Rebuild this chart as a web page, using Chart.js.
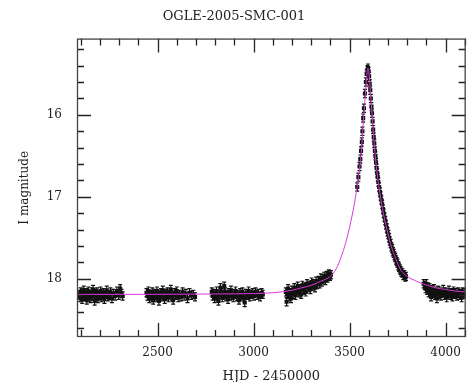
<!DOCTYPE html>
<html>
<head>
<meta charset="utf-8">
<script src="https://cdn.jsdelivr.net/npm/chart.js@4.4.1/dist/chart.umd.min.js"></script>
<style>
    html, body { margin: 0; padding: 0; background: #ffffff; }
    #wrap { width: 470px; height: 382px; }
</style>
</head>
<body>
<div id="wrap"><canvas id="GC1" width="470" height="382"></canvas></div>
<script>
//
// DATOS
//
var titulo = "OGLE-2005-SMC-001";
var ejeX = "HJD - 2450000";
var ejeY = "I magnitude";

var rangoX = [2080, 4105];
var rangoY = [15.07, 18.71];
var ticksX = [2500, 3000, 3500, 4000];
var ticksY = [16, 17, 18];

// temporadas de observacion [HJD, mag]
var temporada1 = [[2091,18.19],[2095,18.23],[2099,18.16],[2103,18.21],[2107,18.25],[2111,18.18],[2115,18.14],[2119,18.22],[2123,18.2],[2127,18.17],[2131,18.26],[2135,18.19],[2139,18.15],[2143,18.23],[2147,18.2],[2152,18.24],[2156,18.16],[2160,18.21],[2164,18.13],[2168,18.2],[2172,18.27],[2176,18.18],[2181,18.22],[2185,18.16],[2189,18.24],[2194,18.19],[2198,18.21],[2203,18.15],[2208,18.23],[2213,18.2],[2218,18.17],[2223,18.25],[2229,18.19],[2235,18.14],[2241,18.22],[2247,18.2],[2254,18.16],[2262,18.24],[2270,18.18],[2279,18.21],[2288,18.15],[2297,18.2],[2305,18.12],[2312,18.18],[2318,18.21]];
var temporada2 = [[2442,18.17],[2447,18.21],[2452,18.15],[2457,18.24],[2462,18.19],[2467,18.22],[2472,18.16],[2477,18.26],[2482,18.2],[2487,18.18],[2492,18.23],[2497,18.15],[2502,18.21],[2507,18.27],[2512,18.19],[2517,18.17],[2522,18.22],[2527,18.14],[2532,18.2],[2537,18.25],[2542,18.18],[2547,18.21],[2552,18.16],[2558,18.23],[2563,18.19],[2569,18.13],[2575,18.21],[2581,18.26],[2587,18.17],[2593,18.2],[2600,18.15],[2607,18.23],[2614,18.19],[2622,18.22],[2630,18.16],[2638,18.21],[2647,18.18],[2656,18.24],[2666,18.17],[2676,18.2],[2686,18.19],[2695,18.22]];
var temporada3 = [[2782,18.16],[2787,18.21],[2792,18.18],[2797,18.24],[2802,18.2],[2807,18.15],[2812,18.22],[2817,18.27],[2822,18.19],[2827,18.11],[2832,18.17],[2837,18.23],[2842,18.2],[2847,18.09],[2852,18.16],[2857,18.22],[2862,18.19],[2867,18.25],[2872,18.17],[2877,18.21],[2882,18.14],[2888,18.2],[2894,18.23],[2900,18.18],[2906,18.15],[2912,18.22],[2918,18.19],[2924,18.26],[2930,18.17],[2936,18.21],[2942,18.16],[2948,18.23],[2954,18.29],[2960,18.18],[2967,18.2],[2974,18.15],[2981,18.22],[2988,18.19],[2995,18.17],[3002,18.21],[3010,18.16],[3018,18.2],[3026,18.18],[3034,18.22],[3042,18.17],[3048,18.19]];
var temporada4 = [[3168,18.16],[3172,18.28],[3176,18.19],[3180,18.12],[3185,18.22],[3190,18.17],[3195,18.24],[3200,18.14],[3206,18.19],[3212,18.11],[3218,18.2],[3224,18.15],[3230,18.09],[3236,18.17],[3242,18.12],[3248,18.19],[3254,18.08],[3260,18.14],[3266,18.1],[3272,18.16],[3278,18.06],[3284,18.11],[3290,18.08],[3296,18.13],[3302,18.04],[3308,18.09],[3314,18.06],[3320,18.11],[3326,18.03],[3332,18.07],[3338,18.02],[3344,18.06],[3350,17.99],[3356,18.04],[3362,18.0],[3368,17.97],[3374,18.02],[3380,17.96],[3386,17.99],[3392,17.94],[3398,17.97],[3403,17.95]];
var temporada5 = [[3540,16.88],[3546,16.76],[3552,16.63],[3556,16.54],[3560,16.44],[3564,16.33],[3567,16.2],[3571,16.04],[3575,15.92],[3580,15.74],[3585,15.6],[3589,15.5],[3593,15.45],[3596,15.43],[3599,15.47],[3602,15.53],[3605,15.62],[3608,15.7],[3611,15.8],[3614,15.9],[3617,15.98],[3620,16.08],[3623,16.18],[3626,16.27],[3629,16.35],[3632,16.44],[3635,16.5],[3638,16.58],[3641,16.65],[3644,16.71],[3647,16.76],[3650,16.82],[3654,16.88],[3658,16.94],[3662,16.99],[3666,17.04],[3670,17.09],[3674,17.15],[3678,17.2],[3682,17.25],[3686,17.29],[3690,17.34],[3694,17.38],[3698,17.43],[3702,17.46],[3706,17.5],[3710,17.54],[3714,17.57],[3718,17.61],[3722,17.63],[3726,17.67],[3730,17.69],[3734,17.72],[3738,17.74],[3742,17.77],[3746,17.79],[3750,17.81],[3754,17.84],[3758,17.86],[3762,17.88],[3766,17.9],[3770,17.92],[3775,17.93],[3780,17.96],[3785,17.95],[3790,17.98],[3794,17.97]];
var temporada6 = [[3886,18.06],[3892,18.08],[3896,18.12],[3900,18.06],[3904,18.14],[3908,18.1],[3912,18.17],[3916,18.11],[3920,18.15],[3925,18.22],[3930,18.13],[3935,18.18],[3940,18.12],[3945,18.2],[3950,18.16],[3955,18.24],[3960,18.14],[3965,18.19],[3970,18.15],[3976,18.21],[3982,18.17],[3988,18.13],[3994,18.2],[4000,18.16],[4006,18.23],[4012,18.18],[4018,18.14],[4024,18.2],[4030,18.17],[4036,18.22],[4042,18.15],[4048,18.19],[4054,18.17],[4060,18.21],[4066,18.16],[4072,18.2],[4078,18.18],[4084,18.23],[4090,18.16],[4096,18.19],[4102,18.17]];

// curva del modelo [HJD, mag]
var modelo = [[2080,18.19],[2400,18.19],[2800,18.185],[3000,18.18],[3100,18.17],[3200,18.14],[3250,18.11],[3300,18.08],[3350,18.03],[3400,17.97],[3430,17.88],[3455,17.74],[3480,17.56],[3505,17.32],[3520,17.15],[3536,16.93],[3550,16.7],[3560,16.48],[3568,16.22],[3576,15.95],[3584,15.7],[3590,15.52],[3596,15.43],[3602,15.52],[3608,15.7],[3616,15.95],[3624,16.22],[3632,16.45],[3642,16.68],[3658,16.95],[3676,17.2],[3700,17.45],[3717,17.6],[3740,17.75],[3769,17.9],[3800,17.97],[3850,18.03],[3893,18.07],[3950,18.11],[4000,18.13],[4050,18.15],[4105,18.16]];

var FUENTE = "'DejaVu Serif', 'Liberation Serif', serif";

FNPares = function (lista) {
    return lista.map(function (p) { return { x: p[0], y: p[1] }; });
}

//
// MARCAS INTERIORES Y MARCO
//
var pluginMarco = {
    id: 'marco',
    afterDatasetsDraw: function (chart) {
        var ctx = chart.ctx, a = chart.chartArea;
        var sx = chart.scales.x, sy = chart.scales.y;
        ctx.save();
        ctx.strokeStyle = '#222';
        ctx.lineWidth = 1.3;
        ctx.beginPath();
        for (var v = 2100; v <= rangoX[1]; v += 100) {
            var px = Math.round(sx.getPixelForValue(v)) + 0.5;
            var l = (v % 500 == 0) ? 14 : 7;
            ctx.moveTo(px, a.bottom); ctx.lineTo(px, a.bottom - l);
            ctx.moveTo(px, a.top); ctx.lineTo(px, a.top + l);
        }
        for (var k = 76; k <= 93; k++) {
            var py = Math.round(sy.getPixelForValue(k / 5)) + 0.5;
            var ly = (k % 5 == 0) ? 14 : 7;
            ctx.moveTo(a.left, py); ctx.lineTo(a.left + ly, py);
            ctx.moveTo(a.right, py); ctx.lineTo(a.right - ly, py);
        }
        ctx.stroke();
        ctx.strokeStyle = '#444';
        ctx.strokeRect(a.left + 0.5, a.top + 0.5, a.right - a.left - 1, a.bottom - a.top - 1);
        ctx.restore();
    }
};

// barras de error pequenas
var pluginError = {
    id: 'errores',
    beforeDatasetsDraw: function (chart) {
        var ctx = chart.ctx, a = chart.chartArea, sy = chart.scales.y;
        ctx.save();
        ctx.beginPath();
        ctx.rect(a.left, a.top, a.right - a.left, a.bottom - a.top);
        ctx.clip();
        ctx.strokeStyle = '#111';
        ctx.lineWidth = 1.2;
        ctx.beginPath();
        chart.data.datasets.forEach(function (ds, i) {
            if (!ds.conError) return;
            chart.getDatasetMeta(i).data.forEach(function (pt, j) {
                var v = ds.data[j].y;
                var y1 = sy.getPixelForValue(v - 0.05), y2 = sy.getPixelForValue(v + 0.05);
                ctx.moveTo(pt.x, y1); ctx.lineTo(pt.x, y2);
                ctx.moveTo(pt.x - 2, y1); ctx.lineTo(pt.x + 2, y1);
                ctx.moveTo(pt.x - 2, y2); ctx.lineTo(pt.x + 2, y2);
            });
        });
        ctx.stroke();
        ctx.restore();
    }
};

var observaciones = [].concat(temporada1, temporada2, temporada3, temporada4, temporada5, temporada6);

new Chart(document.getElementById("GC1"), {
    type: 'scatter',
    data: {
        datasets: [{
            data: FNPares(modelo),
            showLine: true,
            borderColor: '#d63bd6',
            borderWidth: 1,
            pointRadius: 0,
            cubicInterpolationMode: 'monotone',
            order: 0
        }, {
            data: FNPares(observaciones),
            conError: true,
            pointStyle: 'rect',
            pointRadius: 2.9,
            backgroundColor: '#111',
            borderColor: '#111',
            borderWidth: 0,
            order: 1
        }]
    },
    plugins: [pluginMarco, pluginError],
    options: {
        responsive: false,
        animation: false,
        events: [],
        layout: { padding: { left: 0, right: 2, top: 0, bottom: 0 } },
        plugins: {
            legend: { display: false },
            tooltip: { enabled: false },
            title: {
                display: true,
                text: titulo,
                color: '#222',
                font: { family: FUENTE, size: 13, weight: 'normal', lineHeight: 1.2 },
                padding: { top: 9, bottom: 14 }
            }
        },
        scales: {
            x: {
                type: 'linear',
                min: rangoX[0],
                max: rangoX[1],
                afterBuildTicks: function (s) { s.ticks = ticksX.map(function (v) { return { value: v }; }); },
                afterFit: function (s) { s.height = 45; },
                grid: { display: false, drawTicks: false },
                border: { display: false },
                ticks: {
                    color: '#222',
                    padding: 9,
                    maxRotation: 0,
                    font: { family: FUENTE, size: 12 },
                    callback: function (v) { return String(v); }
                },
                title: {
                    display: true,
                    text: ejeX,
                    color: '#222',
                    font: { family: FUENTE, size: 13, lineHeight: 0.8 },
                    padding: { top: 0, bottom: 0 }
                }
            },
            y: {
                type: 'linear',
                reverse: true,
                min: rangoY[0],
                max: rangoY[1],
                afterBuildTicks: function (s) { s.ticks = ticksY.map(function (v) { return { value: v }; }); },
                afterFit: function (s) { s.width = 77; },
                grid: { display: false, drawTicks: false },
                border: { display: false },
                ticks: {
                    color: '#222',
                    padding: 15,
                    font: { family: FUENTE, size: 12 },
                    callback: function (v) { return String(v); }
                },
                title: {
                    display: true,
                    text: ejeY,
                    color: '#222',
                    font: { family: FUENTE, size: 12, lineHeight: 1.2 },
                    padding: { top: 18, bottom: 0 }
                }
            }
        }
    }
});
</script>
</body>
</html>
